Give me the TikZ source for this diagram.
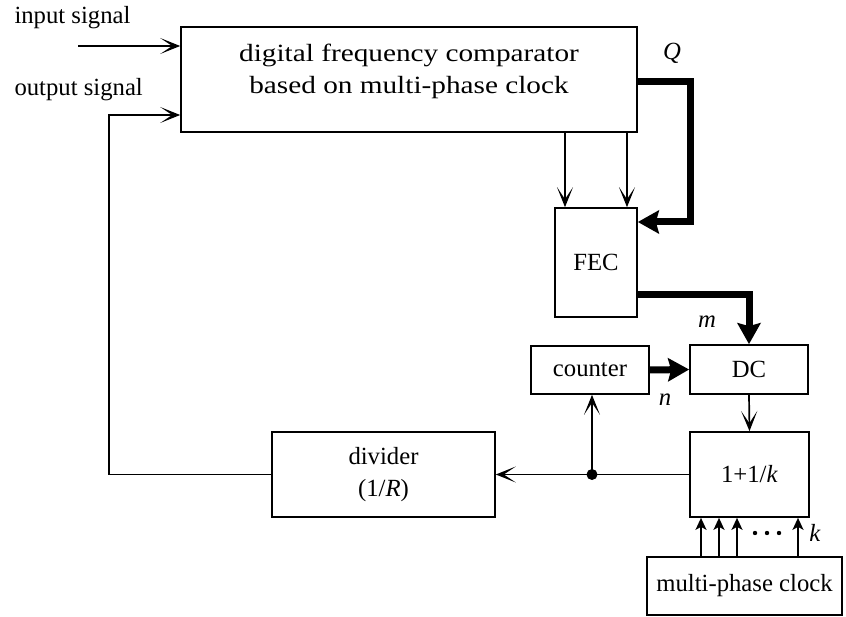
\documentclass[tikz,border=0pt]{standalone}
\usepackage{fontspec}
\setmainfont{Liberation Serif}
\newfontfamily\widefont[FakeStretch=1.18]{Liberation Serif}
\usetikzlibrary{arrows.meta,calc}
\begin{document}
\begin{tikzpicture}[x=1pt,y=-1pt,
  box/.style={draw,line width=1.7pt,rectangle,inner sep=0pt},
  sig/.style={line width=1.7pt,-{Stealth[length=20pt,width=16pt,inset=12pt]}},
  bus/.style={line width=7pt,-{Stealth[length=21pt,width=23pt,inset=3pt]}},
  clkarrow/.style={line width=1.7pt,-{Stealth[length=12pt,width=11pt,inset=3pt]}},
  lbl/.style={font=\fontsize{24.7}{32}\selectfont},
  mtxt/.style={font=\widefont\fontsize{24.8}{32}\selectfont,align=center},
]
\useasboundingbox (0,0) rectangle (846,617);

% boxes
\node[box,minimum width=456pt,minimum height=105pt] (main) at (409,79.5) {};
\node[mtxt] (mt) at (409,71) {digital frequency comparator\\based on multi-phase clock};
\node[box,lbl,minimum width=82pt,minimum height=109pt] (fec) at (596,262.5) {FEC};
\node[box,lbl,minimum width=118pt,minimum height=48pt] (ctr) at (590,370) {counter};
\node[box,lbl,minimum width=118pt,minimum height=49pt] (dc) at (749,369.5) {DC};
\node[box,lbl,minimum width=119pt,minimum height=85pt] (onek) at (749.5,474.5) {1+1/\textit{k}};
\node[box,lbl,align=center,minimum width=223pt,minimum height=85pt] (div) at (383.5,474.5) {divider\\(1/\textit{R})};
\node[box,lbl,minimum width=195pt,minimum height=58pt] (clk) at (744.5,586) {multi-phase clock};

% labels
\node[lbl,anchor=west] (insig) at (11,18) {input signal};
\node[lbl,anchor=west] (outsig) at (11,90) {output signal};
\node[lbl] (q) at (672,53) {\textit{Q}};
\node[lbl] (m) at (707,322) {\textit{m}};
\node[lbl] (n) at (665,400) {\textit{n}};
\node[lbl] (k) at (815,533) {\textit{k}};

% input / feedback
\coordinate (inA) at (78,46);
\draw[sig] (inA) -- (inA -| main.west);
\coordinate (fb) at (109,115);
\draw[sig] (div.west) -| (fb) -- (fb -| main.west);

% comparator to FEC
\coordinate (a1) at (565,0);
\coordinate (a2) at (627,0);
\draw[sig] (a1 |- main.south) -- (a1 |- fec.north);
\draw[sig] (a2 |- main.south) -- (a2 |- fec.north);
\draw[bus] ($(main.east)+(0,2.5)$) -- ++(53,0) |- ($(fec.east)+(0,-40.5)$);

% FEC to DC, counter to DC
\draw[bus] ($(fec.east)+(0,32.5)$) -| (dc.north);
\draw[bus] (ctr.east) -- (dc.west);

% DC to 1+1/k
\draw[sig] (dc.south) -- (onek.north);

% output path
\coordinate (dot) at (592,474.5);
\draw[sig] (onek.west) -- (div.east);
\fill (dot) circle (5.5pt);
\draw[sig] (dot) -- (dot |- ctr.south);

% clock phases
\foreach \xx/\nm in {701/p1,719/p2,737/p3,798/p4}{
  \coordinate (\nm) at (\xx,0);
  \draw[clkarrow] (\nm |- clk.north) -- (\nm |- onek.south);
}
\foreach \xx in {755,767,779}{
  \fill (\xx,533) circle (2.2pt);
}
\end{tikzpicture}
\end{document}
